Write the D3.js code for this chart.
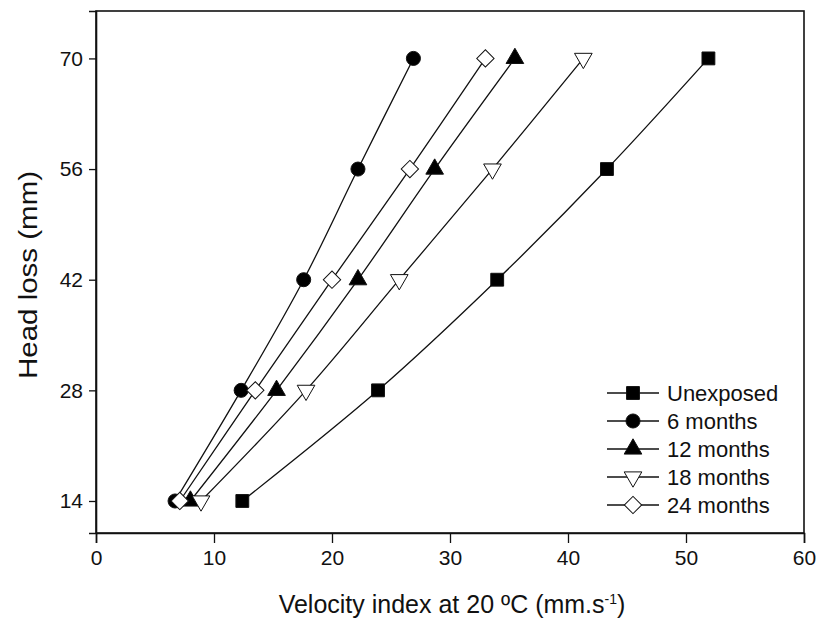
<!DOCTYPE html>
<html>
<head>
<meta charset="utf-8">
<script src="https://cdn.jsdelivr.net/npm/d3@7"></script>
<style>
  body { margin: 0; background: #fff; }
  svg text { font-family: Arial, "Liberation Sans", sans-serif; fill: #111; }
</style>
</head>
<body>
<div id="chart"></div>
<script>
// head loss levels (mm) on the y axis
const headLoss = [14, 28, 42, 56, 70];

// velocity index at 20 C for each exposure period
const unexposed = [12.4, 23.9, 34.0, 43.3, 51.9];
const sixMonths = [6.7, 12.3, 17.6, 22.2, 26.9];
const twelveMonths = [8.0, 15.3, 22.2, 28.7, 35.5];
const eighteenMonths = [8.9, 17.8, 25.7, 33.6, 41.3];
const twentyFourMonths = [7.1, 13.5, 20.0, 26.6, 33.0];

const seriesNames = ['Unexposed', '6 months', '12 months', '18 months', '24 months'];
const xTicks = [0, 10, 20, 30, 40, 50, 60];

let margin = { top: 11, left: 96, right: 17, bottom: 88 },
  width = 821 - margin.left - margin.right,
  height = 621 - margin.top - margin.bottom;

let series = [
  { name: seriesNames[0], values: unexposed, symbol: d3.symbolSquare, size: 165, fill: '#000', rotate: 0 },
  { name: seriesNames[1], values: sixMonths, symbol: d3.symbolCircle, size: 155, fill: '#000', rotate: 0 },
  { name: seriesNames[2], values: twelveMonths, symbol: d3.symbolTriangle, size: 135, fill: '#000', rotate: 0 },
  { name: seriesNames[3], values: eighteenMonths, symbol: d3.symbolTriangle, size: 135, fill: '#fff', rotate: 180 },
  { name: seriesNames[4], values: twentyFourMonths, symbol: d3.symbolSquare, size: 150, fill: '#fff', rotate: 45 }
];

let svg = d3.select('#chart')
  .append('svg')
  .attr('width', 821)
  .attr('height', 621);

let g = svg.append('g')
  .attr('transform', 'translate(' + margin.left + ',' + margin.top + ')');

let xScale = d3.scaleLinear().domain([0, 60]).range([0, width]);
let yScale = d3.scaleLinear().domain([9.95, 76]).range([height, 0]);

// frame around the plot
g.append('rect')
  .attr('x', 0).attr('y', 0)
  .attr('width', width).attr('height', height)
  .attr('fill', 'none')
  .attr('stroke', '#111')
  .attr('stroke-width', 1.6);

// X axis
let xAxis = g.append('g')
  .attr('transform', 'translate(0,' + height + ')')
  .call(d3.axisBottom(xScale).tickValues(xTicks).tickSize(10).tickPadding(7));

// Y axis
let yAxis = g.append('g')
  .call(d3.axisLeft(yScale).tickValues(headLoss).tickSize(7).tickPadding(6));

[xAxis, yAxis].forEach(a => {
  a.select('.domain').attr('stroke', '#111').attr('stroke-width', 1.6);
  a.selectAll('.tick line').attr('stroke', '#111').attr('stroke-width', 1.3);
  a.selectAll('.tick text')
    .attr('fill', '#111')
    .style('font-size', '21px')
    .style('font-family', 'Arial, "Liberation Sans", sans-serif');
});

// axis titles
let xTitle = svg.append('text')
  .attr('x', 452)
  .attr('y', 613)
  .attr('text-anchor', 'middle')
  .style('font-size', '25px');
xTitle.append('tspan').text('Velocity index at 20 ºC (mm.s');
xTitle.append('tspan').attr('dy', -9).style('font-size', '14px').text('-1');
xTitle.append('tspan').attr('dy', 9).text(')');

svg.append('text')
  .attr('transform', 'translate(37,275) rotate(-90)')
  .attr('text-anchor', 'middle')
  .attr('textLength', 208)
  .attr('lengthAdjust', 'spacingAndGlyphs')
  .style('font-size', '25px')
  .text('Head loss (mm)');

// lines
let line = d3.line()
  .curve(d3.curveCatmullRom.alpha(0.5))
  .x(d => xScale(d[0]))
  .y(d => yScale(d[1]));

series.forEach(s => {
  let pts = s.values.map((v, i) => [v, headLoss[i]]);
  g.append('path')
    .datum(pts)
    .attr('fill', 'none')
    .attr('stroke', '#111')
    .attr('stroke-width', 1.3)
    .attr('d', line);
});

// markers on top of the lines
series.forEach(s => {
  let pts = s.values.map((v, i) => [v, headLoss[i]]);
  g.append('g')
    .selectAll('path')
    .data(pts)
    .enter()
    .append('path')
    .attr('transform', d => 'translate(' + xScale(d[0]) + ',' + yScale(d[1]) + ') rotate(' + s.rotate + ')')
    .attr('d', d3.symbol().type(s.symbol).size(s.size))
    .attr('fill', s.fill)
    .attr('stroke', '#111')
    .attr('stroke-width', 1);
});

// legend
let legend = svg.append('g')
  .attr('transform', 'translate(607,393)');

series.forEach((s, i) => {
  let row = legend.append('g').attr('transform', 'translate(0,' + (i * 28) + ')');
  row.append('line')
    .attr('x1', 0).attr('x2', 52)
    .attr('y1', 0).attr('y2', 0)
    .attr('stroke', '#111')
    .attr('stroke-width', 1.3);
  row.append('path')
    .attr('transform', 'translate(26,0) rotate(' + s.rotate + ')')
    .attr('d', d3.symbol().type(s.symbol).size(s.size))
    .attr('fill', s.fill)
    .attr('stroke', '#111')
    .attr('stroke-width', 1);
  row.append('text')
    .attr('x', 60)
    .attr('y', 8)
    .style('font-size', '22px')
    .text(s.name);
});
</script>
</body>
</html>
